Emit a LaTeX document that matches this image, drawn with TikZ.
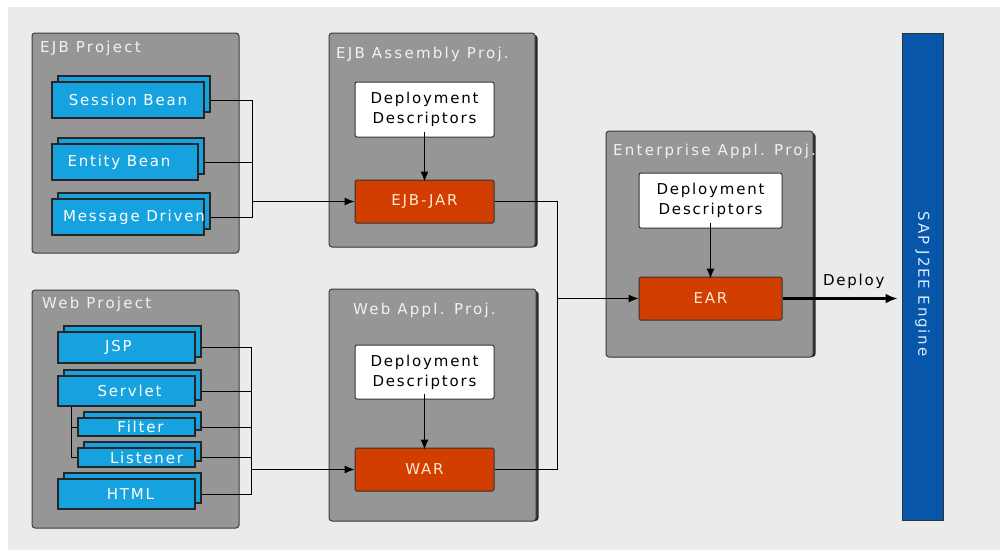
\documentclass[tikz,border=0pt]{standalone}
\usepackage{fontspec}
\setmainfont{DejaVu Sans}
\newfontfamily\uifont[LetterSpace=12]{DejaVu Sans}
\newfontfamily\titlefont[LetterSpace=15]{DejaVu Sans}
\usetikzlibrary{arrows.meta}

\definecolor{canvas}{RGB}{235,235,235}
\definecolor{projfill}{RGB}{150,150,150}
\definecolor{projline}{RGB}{60,60,60}
\definecolor{beanfill}{RGB}{22,162,222}
\definecolor{artfill}{RGB}{210,62,0}
\definecolor{arttext}{RGB}{255,232,205}
\definecolor{engfill}{RGB}{8,86,170}
\definecolor{engtext}{RGB}{215,235,255}
\definecolor{titletext}{RGB}{242,242,242}

\tikzset{
  project/.style={draw=projline, fill=projfill, line width=1pt, rounded corners=3pt, inner sep=0pt},
  projshadow/.style={fill=black!85, draw=none, rounded corners=3pt, inner sep=0pt},
  ptitle/.style={anchor=base west, text=titletext, inner sep=0pt, font=\titlefont\fontsize{15}{17}\selectfont},
  bean/.style={draw=black!85, fill=beanfill, line width=1.2pt, inner sep=0pt, text=white, font=\uifont\fontsize{15}{18}\selectfont},
  desc/.style={draw=black!80, fill=white, line width=1pt, rounded corners=2pt, inner sep=0pt, align=center, font=\uifont\fontsize{15}{20}\selectfont},
  artifact/.style={draw=black!80, fill=artfill, line width=1pt, rounded corners=1.5pt, inner sep=0pt, text=arttext, font=\uifont\fontsize{15}{18}\selectfont},
  wire/.style={draw=black, line width=1pt},
  flow/.style={wire, -{Latex[length=10pt,width=8pt]}},
}

% stacked component: a back copy shifted up-right, the labelled copy in front
\newcommand\stackedbox[7]{%
  \node[bean, minimum width=#4, minimum height=#5] (#1-b) at (#2+6,#3-6) {};
  \node[bean, minimum width=#4, minimum height=#5] (#1) at (#2,#3) {};
  \node[bean, draw=none, fill=none] (#1-t) at ([xshift=#7]#1.center) {#6};
}

\begin{document}
\begin{tikzpicture}[x=1pt,y=-1pt]
\useasboundingbox (0,0) rectangle (1000,550);
\fill[white] (0,0) rectangle (1000,550);
\fill[canvas] (8,7) rectangle (1000,550);

% ---------- EJB Project ----------
\node[project, minimum width=207, minimum height=220] (ejbp) at (135.5,143) {};
\node[ptitle] (ejbpt) at (40,52) {EJB Project};
\stackedbox{sb}{128}{100}{152}{36}{Session Bean}{0}
\stackedbox{eb}{125}{162}{146}{36}{Entity Bean}{-6}
\stackedbox{md}{128}{217}{152}{36}{Message Driven}{6}

% ---------- Web Project ----------
\node[project, minimum width=207, minimum height=238] (webp) at (135.5,409) {};
\node[ptitle] (webpt) at (42,308) {Web Project};
\stackedbox{jsp}{126.5}{347.5}{137}{31}{JSP}{-8}
\stackedbox{sv}{126.5}{391}{137}{30}{Servlet}{3}
\stackedbox{fl}{136.5}{427}{117}{18}{Filter}{4}
\stackedbox{ls}{136.5}{457.5}{117}{19}{Listener}{10}
\stackedbox{ht}{126.5}{494}{137}{30}{HTML}{4}

% ---------- EJB Assembly Project ----------
\node[projshadow, minimum width=206, minimum height=212] (asm-sh) at (434.5,141) {};
\node[project, minimum width=206, minimum height=214] (asm) at (432,140) {};
\node[ptitle] (asmt) at (336,58) {EJB Assembly Proj.};
\node[desc, minimum width=139, minimum height=55] (dd1) at (424.5,109.5) {Deployment\\Descriptors};
\node[artifact, minimum width=139, minimum height=43] (ejbjar) at (424.5,201.5) {EJB-JAR};

% ---------- Web Application Project ----------
\node[projshadow, minimum width=207, minimum height=230] (wap-sh) at (435,406) {};
\node[project, minimum width=207, minimum height=232] (wap) at (432.5,405) {};
\node[ptitle] (wapt) at (353,314) {Web Appl. Proj.};
\node[desc, minimum width=139, minimum height=54] (dd2) at (424.5,372) {Deployment\\Descriptors};
\node[artifact, minimum width=139, minimum height=43] (war) at (424.5,469.5) {WAR};

% ---------- Enterprise Application Project ----------
\node[projshadow, minimum width=207, minimum height=224] (ear-sh) at (712,245) {};
\node[project, minimum width=207, minimum height=226] (entp) at (709.5,244) {};
\node[ptitle] (entpt) at (613,155) {Enterprise Appl. Proj.};
\node[desc, minimum width=143, minimum height=55] (dd3) at (710.5,200.5) {Deployment\\Descriptors};
\node[artifact, minimum width=143, minimum height=43] (ear) at (710.5,298.5) {EAR};

% ---------- SAP J2EE Engine ----------
\node[draw=black!80, fill=engfill, line width=1pt, minimum width=41, minimum height=487, inner sep=0pt] (sap) at (922.5,276.5) {};
\node[rotate=-90, text=engtext, font=\uifont\fontsize{15}{18}\selectfont] (sapt) at (sap.center |- 0,284) {SAP J2EE Engine};

% ---------- bus junctions ----------
\coordinate (ejbbus) at (252,0);
\coordinate (webbus) at (251,0);
\coordinate (svtrunk) at (71,0);
\coordinate (merge) at (557,0);

% EJB components into the EJB-JAR
\draw[wire] (sb-b.east |- sb) -- (ejbbus |- sb) -- (ejbbus |- md) -- (md-b.east |- md);
\draw[wire] (eb-b.east |- eb) -- (ejbbus |- eb);
\draw[flow] (ejbbus |- ejbjar) -- (ejbjar.west);

% web components into the WAR
\draw[wire] (jsp-b.east |- jsp) -- (webbus |- jsp) -- (webbus |- ht) -- (ht-b.east |- ht);
\draw[wire] (sv-b.east |- sv) -- (webbus |- sv);
\draw[wire] (fl-b.east |- fl) -- (webbus |- fl);
\draw[wire] (ls-b.east |- ls) -- (webbus |- ls);
\draw[flow] (webbus |- war) -- (war.west);

% servlet with its filter and listener
\draw[wire] (svtrunk |- sv.south) -- (svtrunk |- ls) -- (ls.west);
\draw[wire] (svtrunk |- fl) -- (fl.west);

% descriptors into archives
\draw[flow] ([yshift=6]dd1.south) -- ([yshift=-2]ejbjar.north);
\draw[flow] ([yshift=6]dd2.south) -- ([yshift=-2]war.north);
\draw[flow] ([yshift=6]dd3.south) -- ([yshift=-2]ear.north);

% archives into the EAR
\draw[wire] (ejbjar.east) -- (merge |- ejbjar) -- (merge |- war) -- (war.east);
\draw[flow] (merge |- ear) -- (ear.west);

% deployment
\draw[line width=2.5pt, -{Latex[length=12pt,width=10pt]}] (ear.east) -- ([xshift=-4]sap.west |- ear)
  node[pos=0.62, above=5pt, text=black, font=\uifont\fontsize{15}{18}\selectfont] (deploy) {Deploy};
\end{tikzpicture}
\end{document}
